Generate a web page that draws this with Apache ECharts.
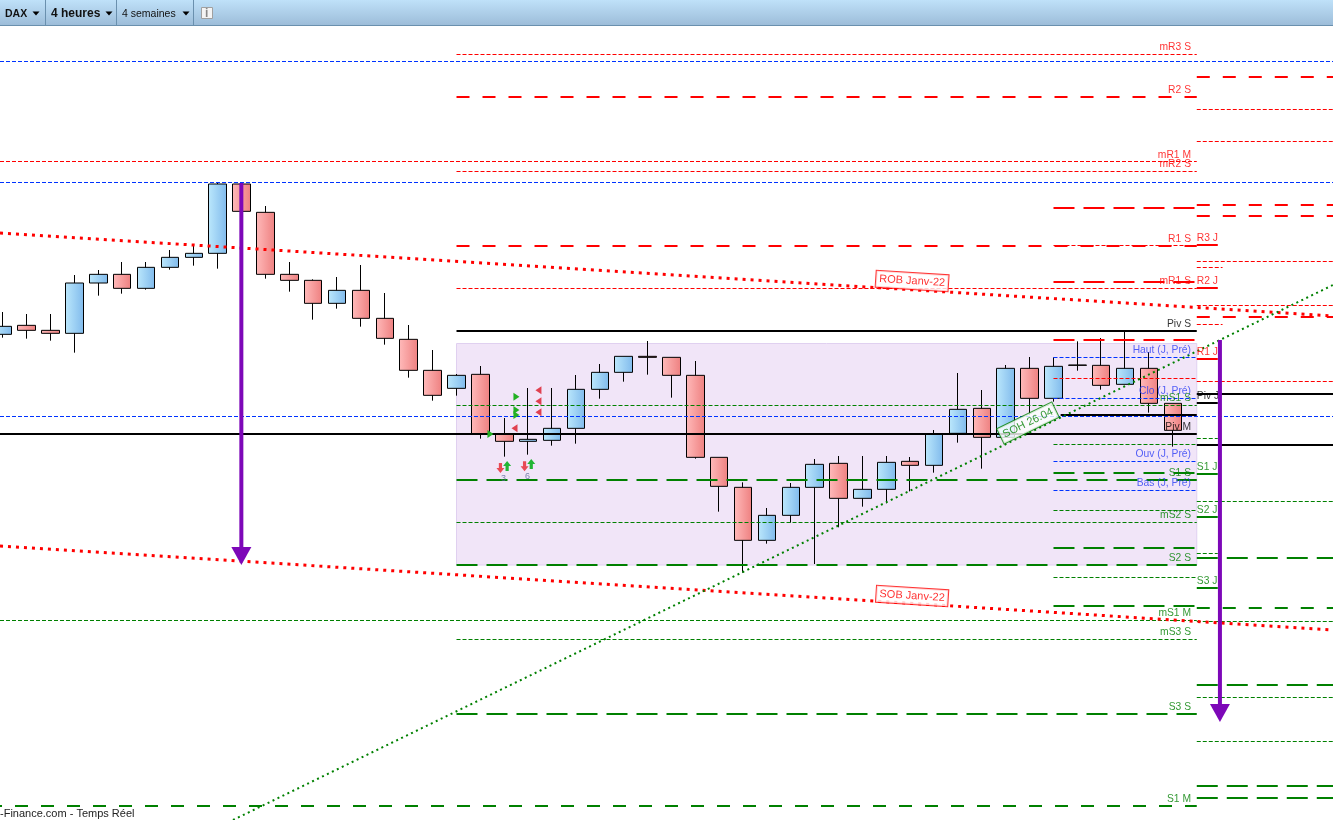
<!DOCTYPE html>
<html>
<head>
<meta charset="utf-8">
<style>html,body{margin:0;padding:0;background:#fff;overflow:hidden}#c{width:1333px;height:820px}</style>
<script src="https://cdn.jsdelivr.net/npm/echarts@6/dist/echarts.min.js"></script>
</head>
<body>
<div id="c"></div>
<script>
// [open, close, low, high] per 4-hour candle (estimated index points)
const candles = [
[15846,15870,15836,15913],[15873,15858,15833,15907],[15858,15849,15827,15907],[15849,16000,15791,16024],
[16000,16026,15962,16039],[16026,15984,15968,16063],[15984,16047,15980,16063],[16047,16077,16040,16099],
[16077,16089,16052,16117],[16089,16297,16043,16300],[16297,16215,16215,16300],[16212,16026,16013,16231],
[16026,16008,15974,16063],[16008,15939,15890,16011],[15939,15978,15923,16018],[15978,15894,15869,16054],
[15894,15834,15815,15970],[15831,15738,15716,15874],[15738,15663,15647,15799],[15684,15723,15662,15727],
[15726,15548,15533,15751],[15548,15525,15479,15595],[15525,15531,15485,15685],[15528,15564,15512,15685],
[15564,15681,15518,15724],[15681,15732,15653,15757],[15732,15780,15704,15780],[15780,15777,15725,15826],
[15777,15723,15656,15777],[15723,15477,15473,15766],[15477,15390,15314,15477],[15387,15228,15131,15402],
[15228,15303,15218,15325],[15303,15387,15281,15400],[15387,15456,15157,15472],[15459,15354,15267,15481],
[15354,15381,15329,15481],[15381,15462,15339,15481],[15465,15453,15375,15478],[15453,15546,15431,15559],
[15549,15621,15521,15730],[15624,15537,15443,15679],[15537,15744,15537,15754],[15744,15654,15604,15778],
[15654,15750,15644,15777],[15754,15753,15737,15825],[15753,15693,15680,15835],[15696,15744,15696,15853],
[15744,15639,15611,15793],[15639,15558,15509,15639]
];
// Levels: full-width
const fullBlueThin = [16664.5,16301.5,15599.5];
// Levels: monthly (left edge to index 50)
const monthRedThin = [16364.5];
const monthGreenThin = [14987.5];
const monthBlack = [15547];
const monthGreenThick = [14431];
// Levels: weekly (index 19 to 50)
const weekRedThin = [16685.5,16334.5,15983.5];
const weekRedThick = [16558,16111];
const weekBlack = [15856];
const weekGreenThin = [15632.5,15281.5,14930.5];
const weekGreenThick = [15409,15154,14707];
// Levels: previous day (index 44 to 50)
const dayRedThick = [16225,16003,15829];
const dayRedThin = [15713.5,16112.5];
const dayBlueThin = [15776.5,15653.5,15464.5,15377.5];
const dayBlack = [15604];
const dayGreenThin = [15515.5,15317.5,15116.5];
const dayGreenThick = [15430,15205,15031];
// Levels: right of the last candle
const nextRedThick = [16618,16234,16201,15898];
const nextRedThin = [16520.5,16424.5,16064.5,15932.5,15704.5];
const nextBlack = [15667,15514];
const nextGreenThin = [15344.5,14984.5,14756.5,14624.5];
const nextGreenThickLong = [15175,14794,14491,14455];
const nextGreenThickShort = [15025];
// Short stubs just right of the last candle
const stubRed = [16114,15985,15772];
const stubBlack = [15640];
const stubGreen = [15427,15298,15085];
const stubRedThin = [16046.5,15875.5];
const stubGreenThin = [15533.5,15188.5];
// Labels
const redLabels = ['mR3 S','R2 S','mR1 M','mR2 S','R1 S','mR1 S'];
const redLabelValues = [16708,16579,16384,16357,16132,16004.5];
const blackLabels = ['Piv S','Piv M'];
const blackLabelValues = [15877,15568];
const blueLabels = ['Haut (J, Pré)','Clo (J, Pré)','Ouv (J, Pré)','Bas (J, Pré)'];
const blueLabelValues = [15799,15674.5,15487,15400];
const greenLabels = ['mS1 S','S1 S','mS2 S','S2 S','mS1 M','mS3 S','S3 S','S1 M'];
const greenLabelValues = [15655,15430,15304,15175,15010,14953,14728,14452];
const redDayLabels = ['R3 J','R2 J','R1 J'];
const redDayLabelValues = [16135,16006,15793];
const blackDayLabels = ['Piv J'];
const blackDayLabelValues = [15661];
const greenDayLabels = ['S1 J','S2 J','S3 J'];
const greenDayLabelValues = [15448,15319,15106];
// Trend lines as [candle index, price]
const robLine = [[-0.117,16150],[55.705,15901]];
const sobLine = [[-0.117,15211],[55.705,14959]];
const sohLine = [[9.64,14389],[55.705,15994]];
// Projection arrows
const arrowOne = [[9.99,16300],[9.99,15181]];
const arrowTwo = [[50.97,15829],[50.97,14710]];
// Rectangle
const zoneIndex = [19,50];
const zonePrice = [15154,15818.5];
// Signals
const greenTriangles = [[20.42,15547],[21.51,15659],[21.51,15619],[21.51,15604]];
const redTriangles = [[21.43,15564],[22.43,15678],[22.43,15645],[22.43,15612]];
const upArrows = [[21.12,15451],[22.13,15457]];
const downArrows = [[20.84,15445],[21.85,15450]];
const signalCounts = [[20.97,15412,'3'],[21.97,15418,'6']];
// Notes on the trend lines
const notes = [[38.08,16006,'ROB Janv-22'],[38.08,15061,'SOB Janv-22'],[42.93,15580,'SOH 26.04']];

const RED='#ff0000', GREEN='#008000', BLUE='#0033ff', BLACK='#000000', FONT='"Liberation Sans", Arial, sans-serif';
const XMIN=-0.117, XMAX=55.705;
const THIN={width:1,type:[4,2]}, T26={width:2,type:[13,13]}, T30={width:2,type:[21,9]}, SOLID={width:2,type:'solid'};
const series=[];
function levels(prices,from,to,color,style,offset){
  prices.forEach(p=>series.push({type:'line',z:3,symbol:'none',silent:true,animation:false,
    data:[[from,p],[to,p]],
    lineStyle:{color:color,width:style.width,type:style.type,dashOffset:offset||0,cap:'butt'}}));
}
levels(fullBlueThin,XMIN,XMAX,BLUE,THIN);
levels(monthRedThin,XMIN,50,RED,THIN);
levels(monthGreenThin,XMIN,50,GREEN,THIN);
levels(monthBlack,XMIN,50,BLACK,SOLID);
levels(monthGreenThick,XMIN,50,GREEN,T26,11);
levels(weekRedThin,19,50,RED,THIN);
levels(weekRedThick,19,50,RED,T26);
levels(weekBlack,19,50,BLACK,SOLID);
levels(weekGreenThin,19,50,GREEN,THIN);
levels(weekGreenThick,19,50,GREEN,T30);
levels(dayRedThick,44,50,RED,T30);
levels(dayRedThin,44,50,RED,THIN);
levels(dayBlueThin,44,50,BLUE,THIN);
levels(dayBlack,44.3,50,BLACK,SOLID);
levels(dayGreenThin,44,50,GREEN,THIN);
levels(dayGreenThick,44,50,GREEN,T30);
levels(nextRedThick,50,XMAX,RED,T26);
levels(nextRedThin,50,XMAX,RED,THIN);
levels(nextBlack,50,XMAX,BLACK,SOLID);
levels(nextGreenThin,50,XMAX,GREEN,THIN);
levels(nextGreenThickLong,50,XMAX,GREEN,T30);
levels(nextGreenThickShort,50,XMAX,GREEN,T26);
levels(stubRed,50,50.88,RED,SOLID);
levels(stubBlack,50,50.88,BLACK,SOLID);
levels(stubGreen,50,50.88,GREEN,SOLID);
levels(stubRedThin,50,51.08,RED,THIN);
levels(stubGreenThin,50,50.88,GREEN,THIN);

// Zone rectangle
series.push({type:'line',z:1,symbol:'none',silent:true,data:[],
  markArea:{silent:true,z:1,itemStyle:{color:'#f1e5f8',borderColor:'#e0d0f0',borderWidth:1},
    data:[[{coord:[zoneIndex[0],zonePrice[1]]},{coord:[zoneIndex[1],zonePrice[0]]}]]}});

// Candles
const lg=(a,b)=>new echarts.graphic.LinearGradient(0,0,1,0,[{offset:0,color:a},{offset:1,color:b}]);
series.push({type:'candlestick',z:2,barWidth:18,silent:true,
  encode:{x:0,y:[1,2,3,4]},
  data:candles.map((c,i)=>[i].concat(c)),
  itemStyle:{color:lg('#bce8fc','#80baec'),color0:lg('#ffbaba','#ee8080'),borderColor:BLACK,borderColor0:BLACK,borderColorDoji:BLACK,borderWidth:1}});

// Trend lines
function trend(data,color,w,dash){series.push({type:'line',z:4,symbol:'none',silent:true,data:data,lineStyle:{color:color,width:w,type:dash,cap:'butt'}});}
trend(robLine,RED,3,[3,5]);
trend(sobLine,RED,3,[3,5]);
trend(sohLine,GREEN,2,[2,3.5]);

// Signals
function marks(data,symbol,size,rot,color){series.push({type:'scatter',z:5,silent:true,symbol:symbol,symbolSize:size,symbolRotate:rot,data:data,itemStyle:{color:color,opacity:1}});}
marks(greenTriangles,'triangle',[8,6],-90,'#22b022');
marks(redTriangles,'triangle',[8,6],90,'#e04050');
const ARROW='path://M5 0 L10 6 L7 6 L7 12 L3 12 L3 6 L0 6 Z';
marks(upArrows,ARROW,[8,10],0,'#22b535');
marks(downArrows,ARROW,[8,10],180,'#e84a55');
series.push({type:'scatter',z:5,silent:true,symbolSize:1,itemStyle:{color:'transparent'},data:signalCounts,
  label:{show:true,position:'inside',formatter:p=>p.value[2],fontFamily:FONT,fontSize:9,color:'#5a6a9a'}});

// Labels
function labels(names,values,x,pos,color){
  series.push({type:'scatter',z:7,silent:true,symbolSize:1,itemStyle:{color:'transparent'},
    data:names.map((n,i)=>({name:n,value:[x,values[i]]})),
    labelLayout:{hideOverlap:false},
    label:{show:true,position:pos,distance:0,formatter:'{b}',fontFamily:FONT,fontSize:10.3,color:color}});
}
labels(redLabels,redLabelValues,49.78,'left',RED);
labels(blackLabels,blackLabelValues,49.78,'left',BLACK);
labels(blueLabels,blueLabelValues,49.78,'left','#2a3cf5');
labels(greenLabels,greenLabelValues,49.78,'left',GREEN);
labels(redDayLabels,redDayLabelValues,49.98,'right',RED);
labels(blackDayLabels,blackDayLabelValues,49.98,'right',BLACK);
labels(greenDayLabels,greenDayLabelValues,49.98,'right',GREEN);

// Notes
[[notes[0],RED,-3.6],[notes[1],RED,-3.6],[notes[2],GREEN,26]].forEach(([n,col,rot])=>{
  series.push({type:'scatter',z:8,silent:true,symbolSize:1,itemStyle:{color:'transparent'},
    data:[n],
    label:{show:true,position:'inside',formatter:p=>p.value[2],rotate:rot,fontFamily:FONT,fontSize:11,color:col,
      backgroundColor:'#ffffff',borderColor:col,borderWidth:1,padding:[3,3,2,3]}});
});

// Projection arrows
[arrowOne,arrowTwo].forEach(a=>{
  series.push({type:'line',z:9,silent:true,showSymbol:true,showAllSymbol:true,
    lineStyle:{color:'#7d07b8',width:4,cap:'butt'},
    itemStyle:{color:'#7d07b8',opacity:1},
    symbolSize:[20,18],
    data:[{value:a[0],symbol:'none'},{value:a[1],symbol:'triangle',symbolRotate:180,symbolSize:[20,18]}]});
});

const chart=echarts.init(document.getElementById('c'),null,{renderer:'canvas'});
const tb=(x,text,font)=>({type:'text',x:x,y:14,z:100,style:{text:text,font:font+' '+FONT,fill:'#111',verticalAlign:'middle'}});
const tri=(x)=>({type:'polygon',z:100,shape:{points:[[x-3.5,11.5],[x+3.5,11.5],[x,15.5]]},style:{fill:'#000'}});
const sep=(x)=>({type:'rect',z:100,shape:{x:x,y:0,width:1,height:25},style:{fill:'#6a90ae'}});
chart.setOption({
  animation:false,
  backgroundColor:'#ffffff',
  grid:{left:0,right:0,top:26,bottom:0,containLabel:false},
  xAxis:{type:'value',min:XMIN,max:XMAX,show:false,splitLine:{show:false}},
  yAxis:{type:'value',min:14389,max:16771,show:false,splitLine:{show:false}},
  tooltip:{show:false},
  legend:{show:false},
  series:series,
  graphic:[
    {type:'rect',z:99,shape:{x:0,y:0,width:1333,height:25},
      style:{fill:new echarts.graphic.LinearGradient(0,0,0,1,[{offset:0,color:'#bfe1f9'},{offset:1,color:'#9dbdd9'}])}},
    {type:'rect',z:100,shape:{x:0,y:25,width:1333,height:1},style:{fill:'#6a90ae'}},
    sep(45),sep(116),sep(193),
    tb(5,'DAX','bold 10.5px'),tri(36),
    tb(51,'4 heures','bold 12px'),tri(109),
    tb(122,'4 semaines','10.5px'),tri(186),
    {type:'rect',z:100,shape:{x:201.5,y:7.5,width:11,height:11},style:{fill:'#f4f4f4',stroke:'#a0a0a0',lineWidth:1}},
    {type:'text',x:205,y:13.5,z:101,style:{text:'i',font:'bold 12px '+FONT,fill:'#888',verticalAlign:'middle'}},
    {type:'text',x:0,y:814,z:100,style:{text:'-Finance.com - Temps Réel',font:'11px '+FONT,fill:'#222',verticalAlign:'middle'}}
  ]
});
</script>
</body>
</html>
